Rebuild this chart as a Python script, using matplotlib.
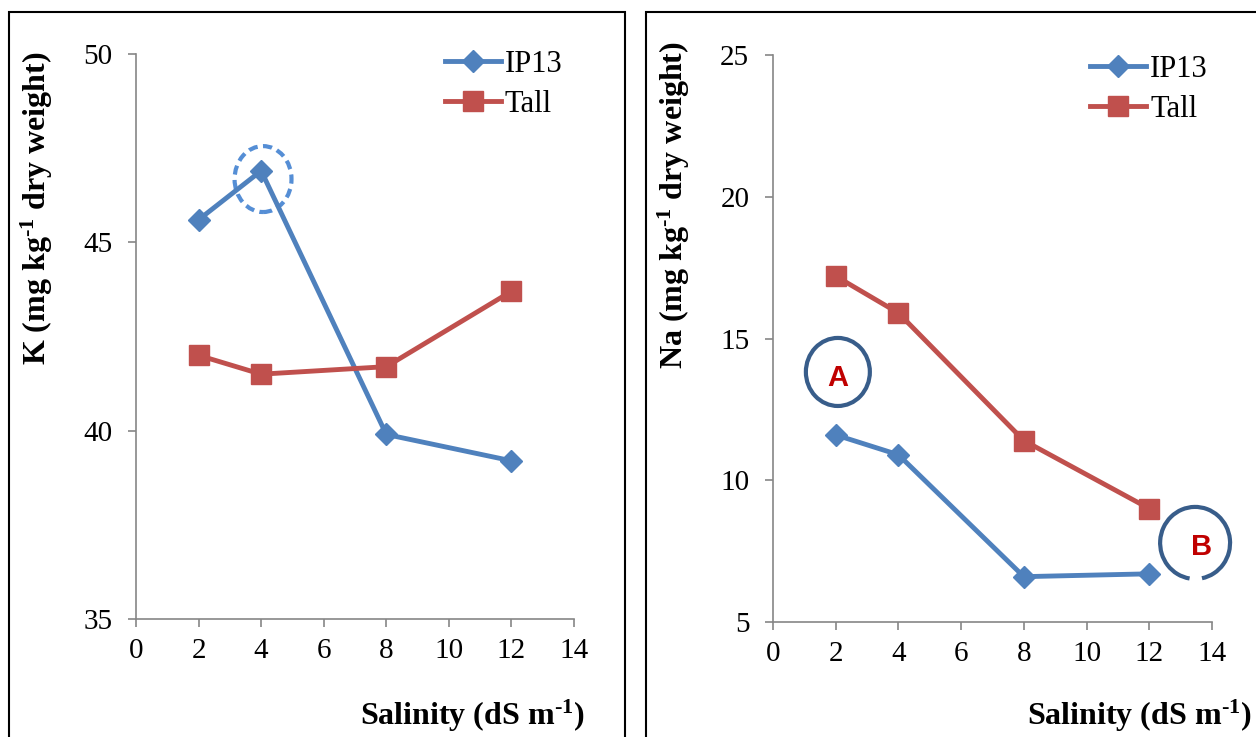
import matplotlib
matplotlib.use("Agg")
import matplotlib.pyplot as plt
from matplotlib.patches import Arc, Ellipse, Rectangle

# data
salinity = [2, 4, 8, 12]
k_ip13 = [45.6, 46.9, 39.9, 39.2]
k_tall = [42.0, 41.5, 41.7, 43.7]
na_ip13 = [11.6, 10.9, 6.6, 6.7]
na_tall = [17.2, 15.9, 11.4, 9.0]

BLUE = "#4F81BD"
RED = "#C0504D"
GREY = "#868686"

plt.rcParams["font.family"] = ["Liberation Serif", "DejaVu Serif"]
plt.rcParams["mathtext.fontset"] = "custom"
plt.rcParams["mathtext.rm"] = "Liberation Serif:bold"
plt.rcParams["mathtext.bf"] = "Liberation Serif:bold"
plt.rcParams["mathtext.default"] = "rm"

fig = plt.figure(figsize=(12.56, 7.37), dpi=100)
ax1 = fig.add_axes([0.1083, 0.1601, 0.3487, 0.7666])
ax2 = fig.add_axes([0.6154, 0.1560, 0.3496, 0.7694])

# panel frames
fig.patches.append(Rectangle((0.0072, -0.05), 0.4904, 1.0337, transform=fig.transFigure,
                             fill=False, ec="black", lw=1.5))
fig.patches.append(Rectangle((0.514, -0.05), 0.6, 1.0337, transform=fig.transFigure,
                             fill=False, ec="black", lw=1.5))


def style(ax, ylim, yticks, ylabel, leg_anchor, ylab_y, xlab_xy):
    for s in ("top", "right"):
        ax.spines[s].set_visible(False)
    for s in ("left", "bottom"):
        ax.spines[s].set_color(GREY)
        ax.spines[s].set_linewidth(1.2)
    ax.set_xlim(0, 14)
    ax.set_ylim(*ylim)
    ax.set_xticks(range(0, 15, 2))
    ax.set_yticks(yticks)
    ax.tick_params(direction="out", length=6, width=1.2, color=GREY, labelsize=21)
    ax.tick_params(axis="y", pad=11)
    ax.tick_params(axis="x", pad=8)
    ax.set_ylabel(ylabel, fontsize=23, fontweight="bold")
    ax.yaxis.set_label_coords(-0.184, ylab_y)
    ax.set_xlabel(r"Salinity (dS $\mathrm{m}^{\text{-}1}$)", fontsize=23, fontweight="bold",
                  ha="right", va="center")
    ax.xaxis.set_label_coords(*xlab_xy)
    ax.legend(loc="upper left", bbox_to_anchor=leg_anchor, frameon=False, fontsize=22,
              handlelength=1.85, handletextpad=0.12, labelspacing=0.36,
              borderpad=0, borderaxespad=0)


ax1.plot(salinity, k_ip13, "-D", color=BLUE, lw=3.5, ms=11.5, label="IP13")
ax1.plot(salinity, k_tall, "-s", color=RED, lw=3.5, ms=15, label="Tall")
style(ax1, (35, 50), [35, 40, 45, 50], r"K (mg $\mathrm{kg}^{\text{-}1}$ dry weight)",
      (0.705, 1.007), 0.727, (1.025, -0.172))
ax1.add_patch(Ellipse((4.06, 46.68), 1.82, 1.75, fill=False, ec="#558ED5", lw=3,
                      ls=(0, (2.2, 1.3))))

ax2.plot(salinity, na_ip13, "-D", color=BLUE, lw=3.5, ms=11.5, label="IP13")
ax2.plot(salinity, na_tall, "-s", color=RED, lw=3.5, ms=15, label="Tall")
style(ax2, (5, 25), [5, 10, 15, 20, 25], r"Na (mg $\mathrm{kg}^{\text{-}1}$ dry weight)",
      (0.722, 1.0), 0.735, (1.091, -0.166))

CIRC = "#385D8A"
ax2.add_patch(Ellipse((2.07, 13.82), 2.04, 2.4, fill=False, ec=CIRC, lw=3))
ax2.add_patch(Arc((13.46, 7.79), 2.23, 2.54, theta1=-80, theta2=262, ec=CIRC, lw=3,
                  clip_on=False))
ax2.text(2.07, 13.61, "A", fontsize=21, fontweight="bold", color="#C00000",
         ha="center", va="center", family=["Liberation Sans", "DejaVu Sans"])
ax2.text(13.68, 7.65, "B", fontsize=21, fontweight="bold", color="#C00000",
         ha="center", va="center", family=["Liberation Sans", "DejaVu Sans"])

fig.savefig("out.png", dpi=100)
